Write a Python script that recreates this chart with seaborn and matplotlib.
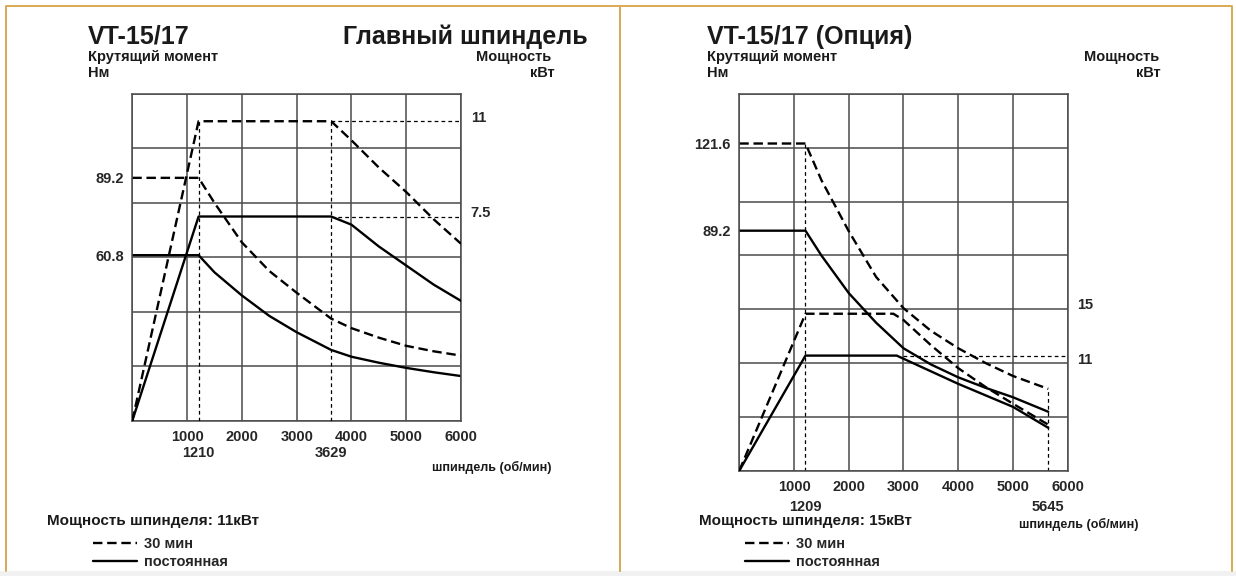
import matplotlib
matplotlib.use("Agg")
import matplotlib.pyplot as plt
from matplotlib.lines import Line2D
from matplotlib.patches import Rectangle
from matplotlib.transforms import ScaledTranslation
import seaborn as sns

sns.set_style("white")
plt.rcParams['font.family'] = ['Liberation Sans', 'DejaVu Sans']
plt.rcParams['font.weight'] = 'bold'

# --- left chart: VT-15/17 main spindle ---
l_rpm_t = [0, 1210, 1500, 2000, 2500, 3000, 3629, 4000, 4500, 5000, 5500, 6000]
l_torque_30 = [89.2, 89.2, 80, 65.5, 55, 47, 37.5, 34, 30.5, 27.5, 25.5, 23.9]
l_torque_s1 = [60.8, 60.8, 54.5, 46, 38.5, 32.5, 26, 23.5, 21.3, 19.4, 17.8, 16.4]
l_rpm_p = [0, 1210, 3629, 4000, 4500, 5000, 5500, 6000]
l_power_30 = [0, 11, 11, 10.3, 9.3, 8.4, 7.4, 6.5]
l_power_s1 = [0, 7.5, 7.5, 7.2, 6.4, 5.7, 5.0, 4.4]
l_torque_ticks = [60.8, 89.2]
l_power_ticks = [7.5, 11]
l_rpm_marks = [1210, 3629]

# --- right chart: VT-15/17 option ---
r_rpm_t = [0, 1209, 1500, 2000, 2500, 3000, 3500, 4000, 4500, 5000, 5645]
r_torque_30 = [121.6, 121.6, 108, 89, 72, 60.4, 52, 45.5, 40, 35.2, 30.4]
r_torque_s1 = [89.2, 89.2, 80, 66, 55, 45.5, 39.5, 34.7, 30.8, 27.3, 21.9]
r_rpm_p30 = [0, 1209, 2815, 3000, 3500, 4000, 4500, 5000, 5645]
r_power_30 = [0, 15, 15, 14.4, 12, 9.8, 8.0, 6.4, 4.4]
r_rpm_ps1 = [0, 1209, 2877, 3000, 3500, 4000, 4500, 5000, 5645]
r_power_s1 = [0, 11, 11, 10.7, 9.5, 8.3, 7.2, 6.1, 4.1]
r_torque_ticks = [89.2, 121.6]
r_power_ticks = [11, 15]
r_rpm_marks = [1209, 5645]

rpm_ticks = [0, 1000, 2000, 3000, 4000, 5000, 6000]

W, H = 1236, 576
fig = plt.figure(figsize=(W / 100, H / 100), dpi=100)

GRID = "#4a4a4a"
DASH = (0, (4, 2))
THIN = (0, (3, 2.5))


def px_axes(x0, y0, x1, y1):
    return fig.add_axes([x0 / W, 1 - y1 / H, (x1 - x0) / W, (y1 - y0) / H])


def setup(ax, tmax, pmax, tticks, pticks, marks, minor_pad, lift):
    ax.set_xlim(0, 6000)
    ax.set_ylim(0, tmax)
    ax.set_xticks(rpm_ticks, [""] + [str(v) for v in rpm_ticks[1:]])
    ax.set_xticks(marks, [str(v) for v in marks], minor=True)
    ax.set_yticks(range(0, tmax + 1, 20), [])
    ax.set_yticks(tticks, [str(v) for v in tticks], minor=True)
    ax.grid(True, which="major", color=GRID, lw=1.1)
    ax.tick_params(which="both", length=0, labelsize=10.5)
    ax.tick_params(axis="x", which="major", pad=7)
    ax.tick_params(axis="x", which="minor", pad=minor_pad)
    ax.tick_params(axis="y", which="minor", pad=6)
    for s in ax.spines.values():
        s.set_color(GRID)
        s.set_linewidth(1.1)
    ax.set_xlabel("")
    ax.set_ylabel("")
    ax2 = ax.twinx()
    ax2.set_ylim(0, pmax)
    ax2.set_yticks(pticks, [str(v) for v in pticks])
    ax2.tick_params(length=0, labelsize=10.5, pad=7)
    # the printed labels sit a little above their levels
    for lbl, dy in zip(ax2.get_yticklabels(), lift):
        lbl.set_transform(lbl.get_transform()
                          + ScaledTranslation(0, dy / 100, fig.dpi_scale_trans))
    for s in ax2.spines.values():
        s.set_visible(False)
    return ax2


def curve(ax, x, y, ls):
    sns.lineplot(x=x, y=y, ax=ax, color="black", lw=1.7, linestyle=ls,
                 estimator=None, sort=False)


# left chart
axl = px_axes(132.3, 94, 461, 420.7)
axl2 = setup(axl, 120, 12, l_torque_ticks, l_power_ticks, l_rpm_marks, 18, (5, 5))
curve(axl, l_rpm_t, l_torque_30, DASH)
curve(axl, l_rpm_t, l_torque_s1, "-")
curve(axl2, l_rpm_p, l_power_30, DASH)
curve(axl2, l_rpm_p, l_power_s1, "-")
axl2.vlines(l_rpm_marks, 0, l_power_30[1], color="black", lw=0.9, linestyle=THIN)
axl2.hlines(l_power_ticks, l_rpm_marks[1], 6000, color="black", lw=0.9, linestyle=THIN)

# right chart
axr = px_axes(739.3, 94, 1067.7, 470.7)
axr2 = setup(axr, 140, 36, r_torque_ticks, r_power_ticks, r_rpm_marks, 21, (-3, 10))
curve(axr, r_rpm_t, r_torque_30, DASH)
curve(axr, r_rpm_t, r_torque_s1, "-")
curve(axr2, r_rpm_p30, r_power_30, DASH)
curve(axr2, r_rpm_ps1, r_power_s1, "-")
axr.vlines(r_rpm_marks[0], 0, r_torque_30[1], color="black", lw=0.9, linestyle=THIN)
axr.vlines(r_rpm_marks[1], 0, r_torque_30[-1], color="black", lw=0.9, linestyle=THIN)
axr2.hlines(r_power_s1[2], r_rpm_ps1[3], 6000, color="black", lw=0.9, linestyle=THIN)


def ftext(x, y, s, size, ha="left", **kw):
    fig.text(x / W, 1 - y / H, s, fontsize=size, ha=ha, va="center",
             fontweight="bold", color="#1a1a1a", **kw)


# headers
ftext(88, 37, "VT-15/17", 18)
ftext(588, 37, "Главный шпиндель", 18, ha="right")
ftext(88, 57, "Крутящий момент", 10.5)
ftext(88, 73, "Нм", 10.5)
ftext(551, 57, "Мощность", 10.5, ha="right")
ftext(555, 73, "кВт", 10.5, ha="right")

ftext(707, 37, "VT-15/17 (Опция)", 18)
ftext(707, 57, "Крутящий момент", 10.5)
ftext(707, 73, "Нм", 10.5)
ftext(1159, 57, "Мощность", 10.5, ha="right")
ftext(1161, 73, "кВт", 10.5, ha="right")

# axis titles
ftext(492, 467, "шпиндель (об/мин)", 9, ha="center")
ftext(1079, 524, "шпиндель (об/мин)", 9, ha="center")

# legends
handles = [Line2D([], [], color="black", lw=1.7, linestyle=DASH),
           Line2D([], [], color="black", lw=1.7)]
labels = ["30 мин", "постоянная"]
ftext(47, 521, "Мощность шпинделя: 11кВт", 11)
ftext(699, 521, "Мощность шпинделя: 15кВт", 11)
for lx in (93, 745):
    fig.legend(handles, labels, loc="upper left",
               bbox_to_anchor=(lx / W, 1 - 537 / H), frameon=False,
               fontsize=10.5, handlelength=3.0, handletextpad=0.5,
               labelspacing=0.3, borderpad=0, borderaxespad=0)

# panel frames
GOLD = "#d9aa55"
fig.add_artist(Rectangle((0, 0), 1, 5 / H, transform=fig.transFigure,
                         facecolor="#f1f1f1", edgecolor="none"))
for x0, x1 in ((6, 620), (620, 1232)):
    fig.add_artist(Line2D([x0 / W, x0 / W, x1 / W, x1 / W],
                          [5 / H, 1 - 6 / H, 1 - 6 / H, 5 / H],
                          transform=fig.transFigure, color=GOLD, lw=1.4))

fig.savefig("out.png", dpi=100)
